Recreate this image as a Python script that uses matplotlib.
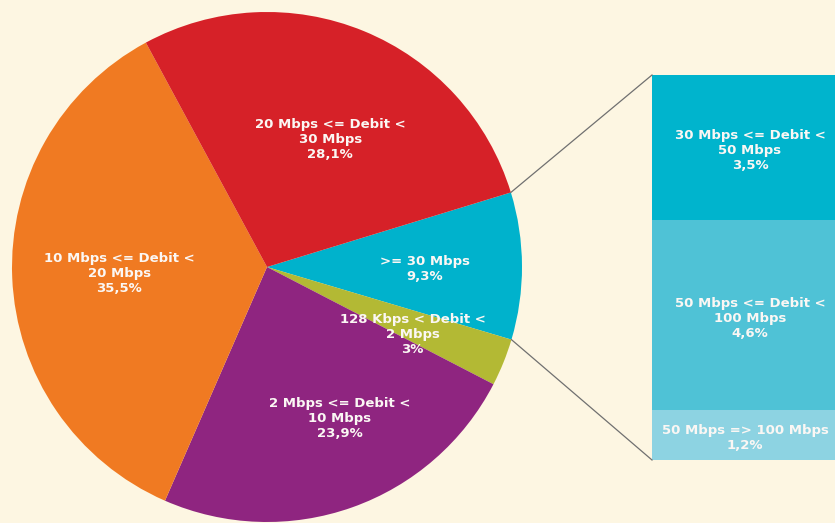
import matplotlib
matplotlib.use("Agg")
import matplotlib.pyplot as plt
import numpy as np

# Data
pie_labels = [">= 30 Mbps", "128 Kbps < Debit <\n2 Mbps", "2 Mbps <= Debit <\n10 Mbps",
              "10 Mbps <= Debit <\n20 Mbps", "20 Mbps <= Debit <\n30 Mbps"]
pie_values = [9.3, 3.0, 23.9, 35.5, 28.1]
pie_pct = ["9,3%", "3%", "23,9%", "35,5%", "28,1%"]
pie_colors = ["#00b2cc", "#b3b934", "#8f2580", "#f07a22", "#d62128"]

bar_labels = ["50 Mbps => 100 Mbps", "50 Mbps <= Debit <\n100 Mbps", "30 Mbps <= Debit <\n50 Mbps"]
bar_values = [1.2, 4.6, 3.5]
bar_pct = ["1,2%", "4,6%", "3,5%"]
bar_colors = ["#8dd3e2", "#4fc2d6", "#00b4cd"]

BG = "#fdf6e2"
W, H = 835, 523
fig = plt.figure(figsize=(W / 100, H / 100), dpi=100, facecolor=BG)
ax = fig.add_axes([0, 0, 1, 1])
ax.set_xlim(0, W)
ax.set_ylim(0, H)
ax.set_aspect("equal")
ax.axis("off")
ax.set_facecolor(BG)

cx, cy, R = 267, 256, 255
wedges, _ = ax.pie(pie_values, colors=pie_colors, startangle=17, counterclock=False,
                   center=(cx, cy), radius=R, normalize=True,
                   wedgeprops=dict(linewidth=0))
ax.set_xlim(0, W)
ax.set_ylim(0, H)

# label placement (radial distance fraction, angle offset in degrees)
lab_r = [0.62, 0.63, 0.66, 0.58, 0.56]
lab_off = [-1, -3, 6, 0, -4]
font = dict(color="#fbf7f4", fontsize=9.5, fontweight="bold", ha="center", va="center",
            linespacing=1.2, family="DejaVu Sans")
for w, lab, pct, r, off in zip(wedges, pie_labels, pie_pct, lab_r, lab_off):
    ang = np.deg2rad((w.theta1 + w.theta2) / 2 + off)
    x = cx + r * R * np.cos(ang)
    y = cy + r * R * np.sin(ang)
    ax.text(x, y, lab + "\n" + pct, **font)

# stacked bar
bx, bw = 652, 200
b_bottom = 63
scale = 385 / sum(bar_values)
bottom = b_bottom
for v, c, lab, pct in zip(bar_values, bar_colors, bar_labels, bar_pct):
    ax.bar(bx, v * scale, width=bw, bottom=bottom, color=c, align="edge", linewidth=0)
    tx = 745 if v < 2 else 750
    ax.text(tx, bottom + v * scale / 2 - 3, lab + "\n" + pct, **font)
    bottom += v * scale

# connector lines from the cyan wedge edges to bar corners
cw = wedges[0]
t_top = np.deg2rad(cw.theta2)
t_bot = np.deg2rad(cw.theta1)
ax.plot([cx + R * np.cos(t_top), bx], [cy + R * np.sin(t_top), bottom],
        color="#707070", lw=0.9)
ax.plot([cx + R * np.cos(t_bot), bx], [cy + R * np.sin(t_bot), b_bottom],
        color="#707070", lw=0.9)

fig.savefig("out.png", dpi=100, facecolor=BG)
